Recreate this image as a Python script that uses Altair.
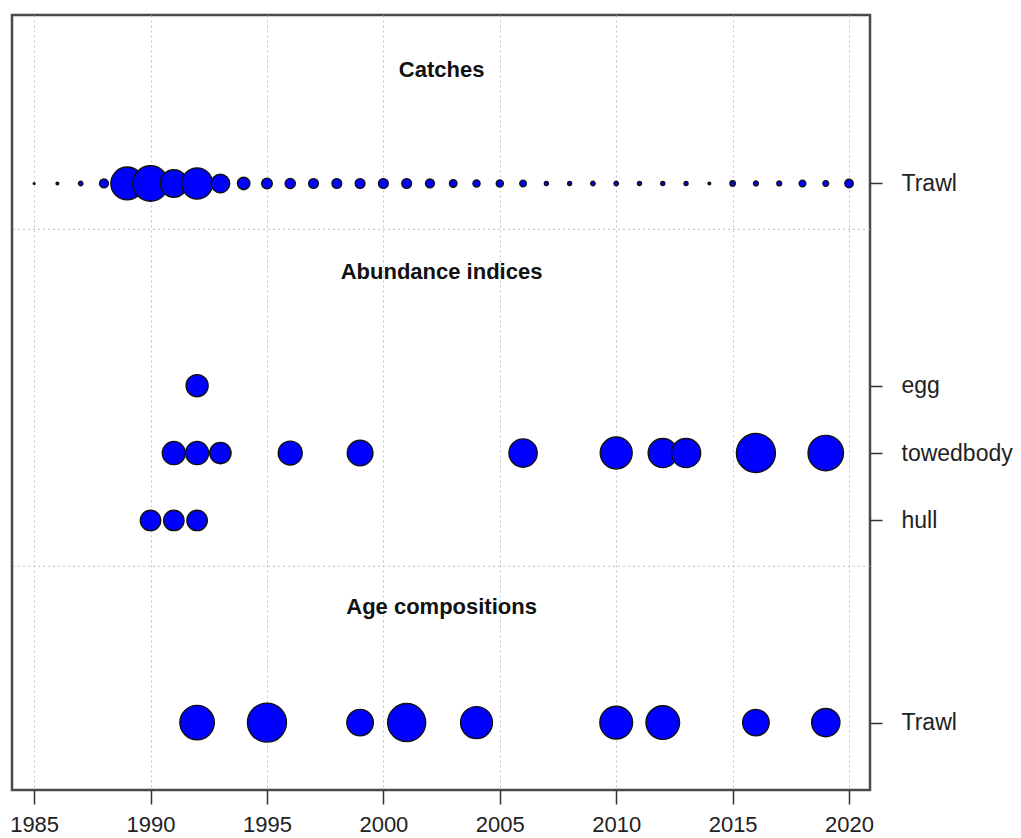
import altair as alt
import pandas as pd

# ---- data ----
catch_years = list(range(1985, 2021))
catch_values = [40, 90, 250, 1000, 13700, 16000, 9600, 12250, 4400, 1960,
                1440, 1320, 1210, 1210, 1210, 1210, 1210, 1000, 720, 640,
                640, 560, 200, 200, 250, 250, 200, 200, 200, 90,
                360, 300, 300, 560, 420, 900]

egg_years = [1992]
egg_values = [6.2]
towed_years = [1991, 1992, 1993, 1996, 1999, 2006, 2010, 2012, 2013, 2016, 2019]
towed_values = [6.8, 6.8, 5.8, 7.3, 8.4, 10.2, 13.0, 10.9, 10.9, 19.4, 16.0]
hull_years = [1990, 1991, 1992]
hull_values = [5.3, 5.3, 5.3]

age_years = [1992, 1995, 1999, 2001, 2004, 2010, 2012, 2016, 2019]
age_n = [152, 194, 90, 185, 130, 137, 144, 90, 102]

section_titles = ["Catches", "Abundance indices", "Age compositions"]
row_labels = ["Trawl", "egg", "towedbody", "hull", "Trawl"]
x_ticks = [1985, 1990, 1995, 2000, 2005, 2010, 2015, 2020]

# ---- layout (row positions in plot units) ----
ROW = {"catch": 9, "egg": 6, "towedbody": 5, "hull": 4, "age": 1}
TITLE_Y = [10.68, 7.69, 2.72]
SEP_Y = [3.32, 8.32]
FONT = "Liberation Sans"

catch_df = pd.DataFrame({"year": catch_years, "value": catch_values, "row": ROW["catch"]})
idx_df = pd.concat([
    pd.DataFrame({"year": egg_years, "value": egg_values, "row": ROW["egg"]}),
    pd.DataFrame({"year": towed_years, "value": towed_values, "row": ROW["towedbody"]}),
    pd.DataFrame({"year": hull_years, "value": hull_values, "row": ROW["hull"]}),
], ignore_index=True)
age_df = pd.DataFrame({"year": age_years, "value": age_n, "row": ROW["age"]})
title_df = pd.DataFrame({"label": section_titles, "row": TITLE_Y, "year": [2002.5] * 3})
sep_df = pd.DataFrame({"row": SEP_Y})

label_expr = ("datum.value == 9 ? 'Trawl' : datum.value == 6 ? 'egg' : "
              "datum.value == 5 ? 'towedbody' : datum.value == 4 ? 'hull' : "
              "datum.value == 1 ? 'Trawl' : ''")

x_enc = alt.X("year:Q",
              scale=alt.Scale(domain=[1984.05, 2020.9], nice=False, zero=False),
              axis=alt.Axis(values=x_ticks, format="d", title=None, grid=True,
                            gridColor="#c4c4c4", gridDash=[2, 3], gridWidth=1,
                            domain=False, tickSize=14, tickWidth=1.5, tickColor="#333",
                            labelFontSize=22, labelPadding=10, labelColor="#222",
                            labelFont=FONT, labelFlush=False))
y_enc = alt.Y("row:Q",
              scale=alt.Scale(domain=[0, 11.5], nice=False, zero=False),
              axis=alt.Axis(orient="right", values=[1, 4, 5, 6, 9], labelExpr=label_expr,
                            title=None, grid=False, domain=False, tickSize=12,
                            tickWidth=1.5, tickColor="#333", labelFontSize=23,
                            labelPadding=19, labelColor="#222", labelFont=FONT,
                            labelBaseline="middle"))

bubble = dict(fill="#0000ff", stroke="#111111", strokeWidth=1.4, opacity=1,
              fillOpacity=1, strokeOpacity=1)

seps = alt.Chart(sep_df).mark_rule(color="#bdbdbd", strokeDash=[2, 3], strokeWidth=1).encode(
    y=y_enc)

titles = alt.Chart(title_df).mark_text(fontSize=22, fontWeight="bold", font=FONT,
                                       color="#111", baseline="middle", align="center").encode(
    x=x_enc, y=y_enc, text="label:N")

catches = alt.Chart(catch_df).mark_circle(**bubble).encode(
    x=x_enc, y=y_enc,
    size=alt.Size("value:Q", scale=alt.Scale(domain=[0, 16000], range=[0, 1257]), legend=None))

indices = alt.Chart(idx_df).mark_circle(**bubble).encode(
    x=x_enc, y=y_enc,
    size=alt.Size("value:Q", scale=alt.Scale(domain=[0, 19.4], range=[0, 1521]), legend=None))

ages = alt.Chart(age_df).mark_circle(**bubble).encode(
    x=x_enc, y=y_enc,
    size=alt.Size("value:Q", scale=alt.Scale(domain=[0, 194], range=[0, 1521]), legend=None))

chart = alt.layer(seps, titles, catches, indices, ages).resolve_scale(
    size="independent"
).properties(
    width=858, height=775,
    autosize=alt.AutoSizeParams(type="none"),
    padding={"left": 12, "top": 15, "right": 151, "bottom": 48},
    background="white",
).configure_view(stroke="#4a4a4a", strokeWidth=2.5)

chart.save("out.html", embed_options={"renderer": "svg", "actions": False})
